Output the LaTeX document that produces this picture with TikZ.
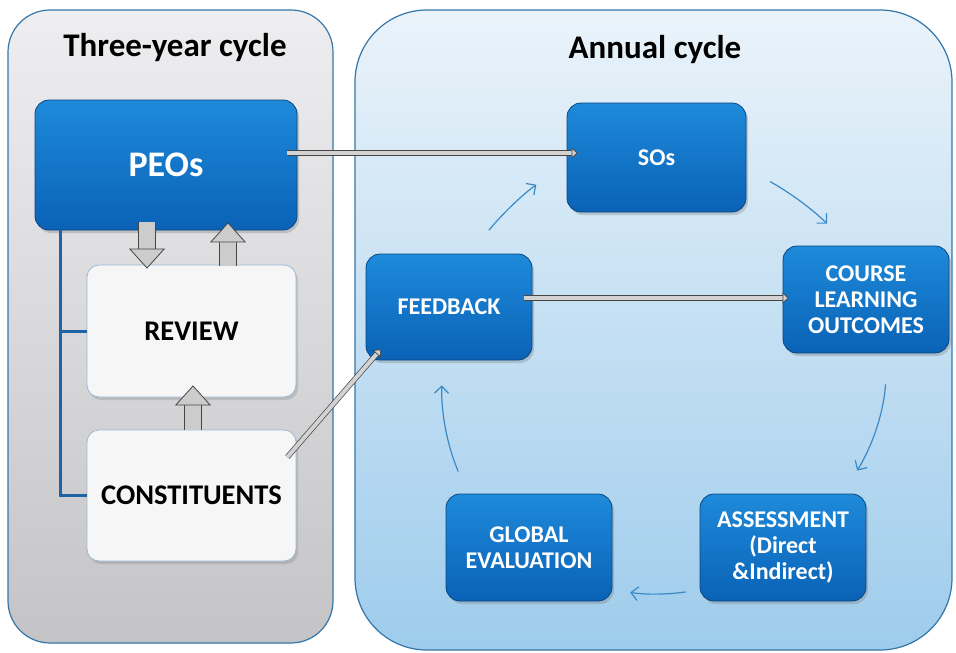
\documentclass[tikz,border=0pt]{standalone}
\usepackage{fontspec}
\setmainfont{Carlito}
\usepackage{tikz}
\usetikzlibrary{arrows.meta,shadows,positioning}
\definecolor{panelline}{RGB}{52,118,168}
\definecolor{greytop}{RGB}{238,238,240}
\definecolor{greybot}{RGB}{196,196,198}
\definecolor{bluetop}{RGB}{234,243,250}
\definecolor{bluebot}{RGB}{158,204,236}
\definecolor{boxtop}{RGB}{30,138,218}
\definecolor{boxbot}{RGB}{10,98,182}
\definecolor{boxline}{RGB}{10,70,130}
\definecolor{wline}{RGB}{150,186,216}
\definecolor{wfill}{RGB}{246,246,247}
\definecolor{treeblue}{RGB}{30,100,165}
\definecolor{cycblue}{RGB}{58,138,200}

\begin{document}
\begin{tikzpicture}[x=1pt, y=-1pt,
    panel/.style={draw=panelline, line width=1.2pt},
    ttl/.style={font=\bfseries\fontsize{33}{36}\selectfont},
    blk/.style={draw=boxline, line width=0.8pt, rounded corners=14pt, top color=boxtop, bottom color=boxbot,
        text=white, align=center, inner sep=2pt, font=\bfseries\fontsize{24}{26}\selectfont,
        drop shadow={shadow xshift=2pt, shadow yshift=-3pt, opacity=0.35}},
    wbox/.style={draw=wline, line width=0.8pt, fill=wfill, rounded corners=12pt, align=center,
        font=\bfseries\fontsize{28.5}{32}\selectfont,
        drop shadow={shadow xshift=2pt, shadow yshift=-3pt, opacity=0.3}},
    tree/.style={draw=treeblue, line width=3pt},
    fat/.style={draw=gray!55!black, line width=0.8pt, double=gray!40, double distance=16pt,
        -{Triangle[length=20pt, width=36pt, fill=gray!40]}},
    pipe/.style={draw=gray!55!black, line width=0.7pt, double=gray!35, double distance=4pt,
        -{Triangle[length=6pt, width=11pt, fill=gray!35]}},
    cyc/.style={draw=cycblue, line width=1.2pt, -{Straight Barb[length=7pt, width=14pt]}}]
  \useasboundingbox (0,0) rectangle (956,653);

  \draw[panel, rounded corners=42pt, top color=greytop, bottom color=greybot] (8,10) rectangle (333,643);
  \draw[panel, rounded corners=72pt, top color=bluetop, bottom color=bluebot] (355,10) rectangle (952,650);

  \node[ttl] (t3) at (175,48) {Three-year cycle};
  \node[ttl] (ta) at (655,50) {Annual cycle};

  \node[blk, minimum width=262pt, minimum height=130pt, font=\bfseries\fontsize{36}{40}\selectfont] (peo) at (166,165) {PEOs};
  \node[wbox, minimum width=209pt, minimum height=132pt] (rev) at (191.5,331) {REVIEW};
  \node[wbox, minimum width=209pt, minimum height=131pt] (con) at (191.5,495.5) {CONSTITUENTS};

  \node[blk, minimum width=179pt, minimum height=109pt] (so) at (656.5,157.5) {SOs};
  \node[blk, minimum width=166pt, minimum height=106pt] (fb) at (449,307) {FEEDBACK};
  \node[blk, minimum width=166pt, minimum height=107pt] (clo) at (866,299.5) {COURSE\\LEARNING\\OUTCOMES};
  \node[blk, minimum width=166pt, minimum height=107pt] (as) at (783,547.5) {ASSESSMENT\\(Direct\\\&Indirect)};
  \node[blk, minimum width=166pt, minimum height=107pt] (gl) at (529,547.5) {GLOBAL\\EVALUATION};

  \coordinate (trunk) at (60,495.5);
  \draw[tree] (peo.south -| trunk) -- (trunk) -- (con.west);
  \draw[tree] (rev.west) -- (rev.west -| trunk);

  \coordinate (dn) at ([xshift=-44.5pt]rev.north);
  \coordinate (up) at ([xshift=36.5pt]rev.north);
  \draw[fat] ([yshift=8pt]peo.south -| dn) -- ([yshift=-4pt]dn);
  \draw[fat] ([yshift=-1pt]up) -- ([yshift=8pt]peo.south -| up);
  \draw[fat] ([xshift=1.5pt]con.north) -- ([shift={(1.5pt,12pt)}]rev.south);

  \draw[pipe] ([shift={(-10pt,12pt)}]peo.east) -- ([shift={(11pt,4.5pt)}]so.west);
  \draw[pipe] ([shift={(-8pt,9pt)}]fb.east) -- ([shift={(6pt,1.5pt)}]clo.west);
  \draw[pipe] ([shift={(-9pt,38.5pt)}]con.east) -- ([shift={(15pt,11pt)}]fb.south west);

  \draw[cyc, shorten <=30pt, shorten >=37pt] ([xshift=21pt]fb.north) to[bend left=8] ([yshift=-6pt]so.west);
  \draw[cyc, shorten <=27pt, shorten >=31pt] ([yshift=-11pt]so.east) to[bend left=8] ([xshift=-17pt]clo.north);
  \draw[cyc, shorten <=31pt, shorten >=27pt] ([xshift=21.5pt]clo.south) to[bend left=14] ([xshift=60pt]as.north);
  \draw[cyc, shorten <=14pt, shorten >=18pt] ([yshift=-42.5pt]as.west) to[bend left=8] ([yshift=-42.5pt]as.west -| gl.east);
  \draw[cyc, shorten <=24pt, shorten >=25pt] ([xshift=-61.5pt]gl.north) to[bend left=12] ([xshift=-6.7pt]fb.south);
\end{tikzpicture}
\end{document}
